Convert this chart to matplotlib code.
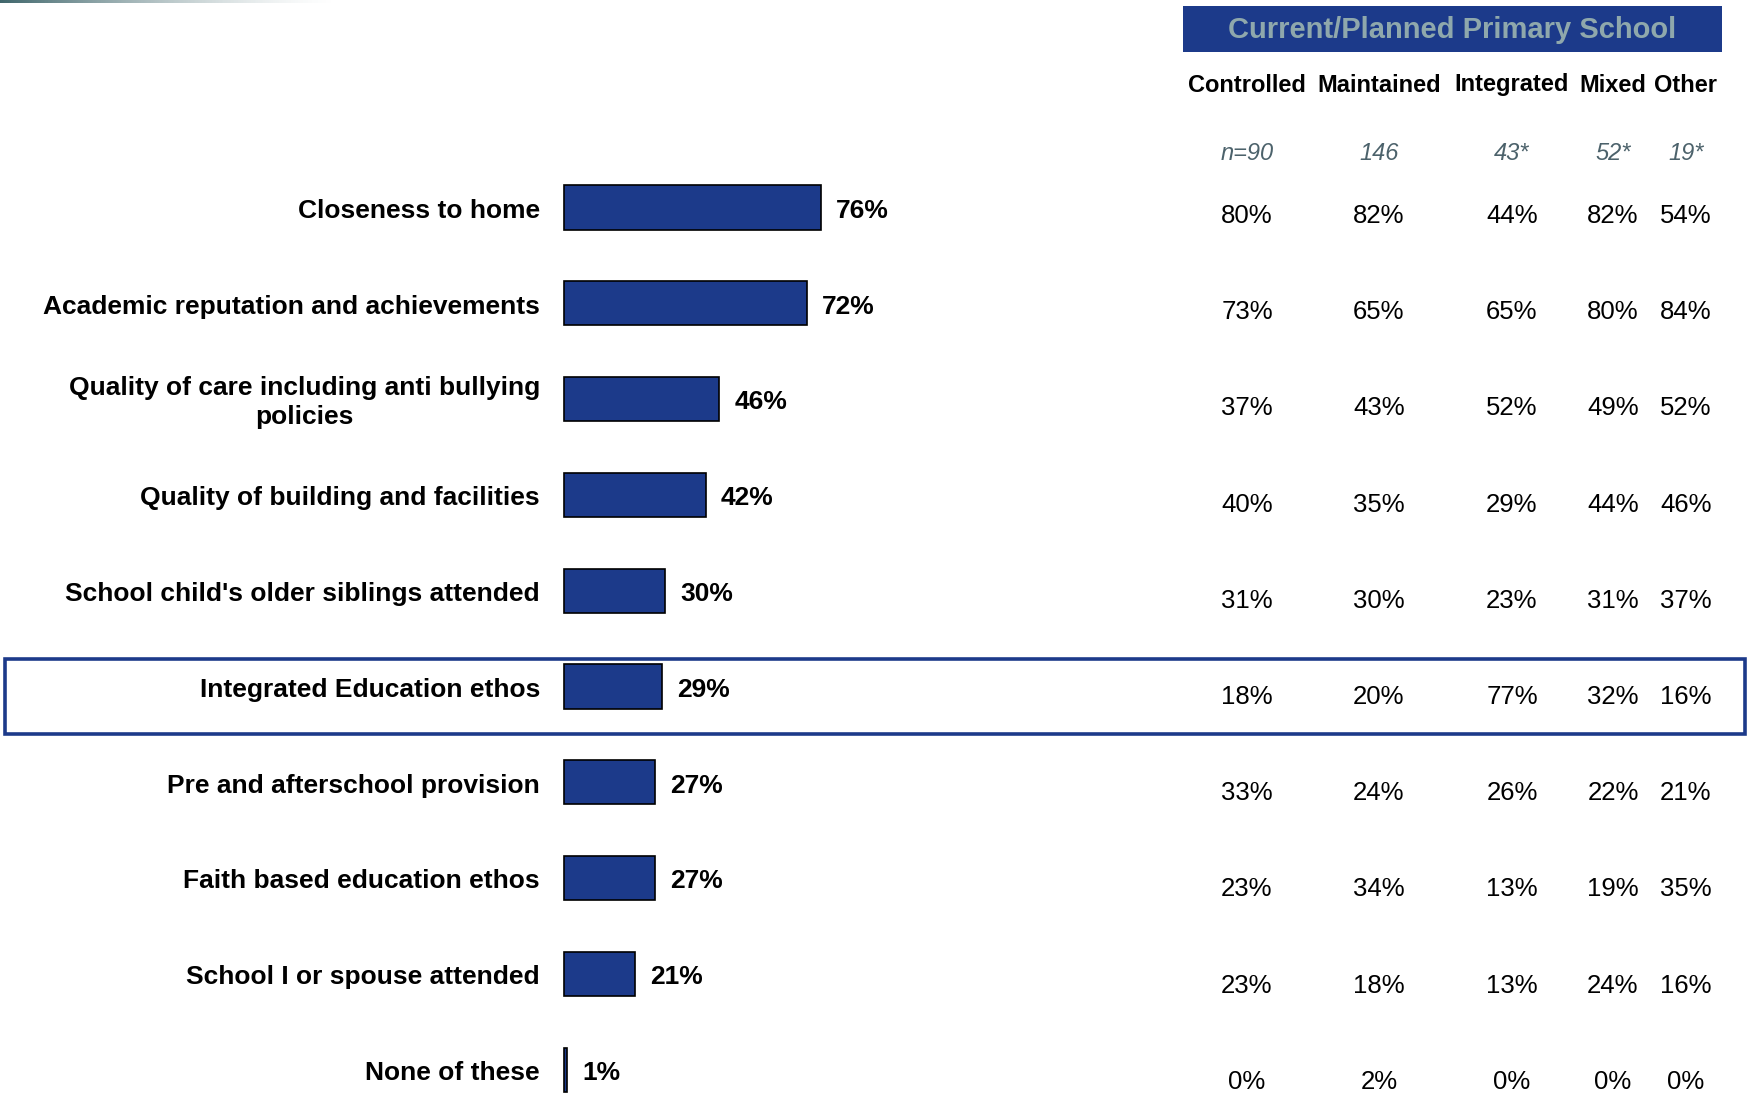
import numpy as np
import matplotlib.pyplot as plt
from matplotlib.patches import Rectangle
from matplotlib.transforms import blended_transform_factory

plt.rcParams['font.family'] = ['Liberation Sans', 'DejaVu Sans']

# data
categories = ['Closeness to home',
              'Academic reputation and achievements',
              'Quality of care including anti bullying\npolicies',
              'Quality of building and facilities',
              "School child's older siblings attended",
              'Integrated Education ethos',
              'Pre and afterschool provision',
              'Faith based education ethos',
              'School I or spouse attended',
              'None of these']
overall = [76, 72, 46, 42, 30, 29, 27, 27, 21, 1]

school_types = ['Controlled', 'Maintained', 'Integrated', 'Mixed', 'Other']
base_sizes = ['n=90', '146', '43*', '52*', '19*']
controlled = [80, 73, 37, 40, 31, 18, 33, 23, 23, 0]
maintained = [82, 65, 43, 35, 30, 20, 24, 34, 18, 2]
integrated = [44, 65, 52, 29, 23, 77, 26, 13, 13, 0]
mixed = [82, 80, 49, 44, 31, 32, 22, 19, 24, 0]
other = [54, 84, 52, 46, 37, 16, 21, 35, 16, 0]
table = [controlled, maintained, integrated, mixed, other]

highlight = 'Integrated Education ethos'

blue = '#1c3a8a'
W, H = 1749, 1095

fig = plt.figure(figsize=(W / 100, H / 100), dpi=100)
ax = fig.add_axes([0, 0, 1, 1])

# pixel layout of the bar area
px_per_pct = 3.38
bar_x0 = 564
row0 = 207.5
row_step = 95.8
ax.set_xlim(-bar_x0 / px_per_pct, (W - bar_x0) / px_per_pct)
ax.set_ylim((H - row0) / row_step, -row0 / row_step)
ax.axis('off')

y = np.arange(len(categories))
ax.barh(y, overall, height=0.46, color=blue, edgecolor='black', linewidth=1.2)

trans = blended_transform_factory(fig.transFigure, ax.transData)
dy = 0.035  # text sits a touch below bar centre
for i, (cat, v) in enumerate(zip(categories, overall)):
    ax.text(540 / W, i + dy, cat, transform=trans, ha='right', va='center',
            fontsize=19, fontweight='bold', multialignment='center',
            linespacing=1.25)
    ax.text(v + 15 / px_per_pct, i + dy, f'{v}%', ha='left', va='center',
            fontsize=19, fontweight='bold')

# right hand table
col_x = [1247, 1379, 1512, 1613, 1686]
for j, name in enumerate(school_types):
    fig.text(col_x[j] / W, 1 - 91.5 / H, name, ha='center', va='baseline',
             fontsize=17, fontweight='bold')
    fig.text(col_x[j] / W, 1 - 154 / H, base_sizes[j], ha='center', va='center',
             fontsize=17, style='italic', color='#4c626b')
    for i, val in enumerate(table[j]):
        fig.text(col_x[j] / W, 1 - (216 + 96.2 * i) / H, f'{val}%',
                 ha='center', va='center', fontsize=18.5)

# header box
fig.patches.append(Rectangle((1183 / W, 1 - 52 / H), (1722 - 1183) / W, 46 / H,
                             transform=fig.transFigure, facecolor=blue,
                             edgecolor='none'))
fig.text(1452 / W, 1 - 30 / H, 'Current/Planned Primary School', ha='center',
         va='center', fontsize=21, fontweight='bold', color='#8fa8ac')

# highlight row
fig.patches.append(Rectangle((4.5 / W, 1 - 733.5 / H), (1745.5 - 4.5) / W,
                             (733.5 - 658.5) / H, transform=fig.transFigure,
                             fill=False, edgecolor=blue, linewidth=2.6))

# fading line at top left
ax_g = fig.add_axes([0, 1 - 3 / H, 340 / W, 3 / H])
grad = np.zeros((1, 256, 4))
grad[..., 0] = 0.25
grad[..., 1] = 0.40
grad[..., 2] = 0.42
grad[..., 3] = np.linspace(1, 0, 256) ** 1.5
ax_g.imshow(grad, aspect='auto')
ax_g.axis('off')

fig.savefig('out.png', dpi=100)
